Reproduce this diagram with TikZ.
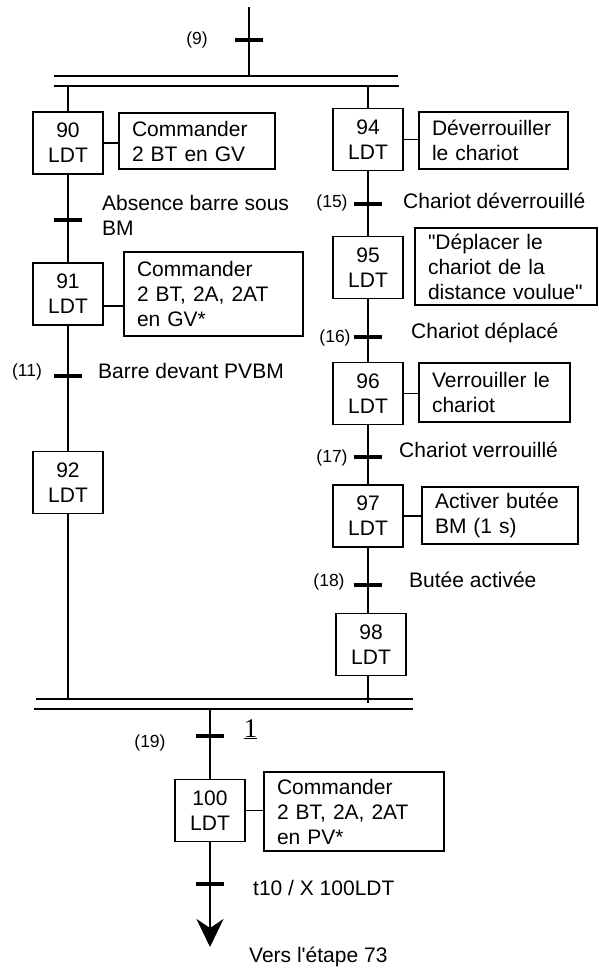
\documentclass[tikz,border=0pt]{standalone}
\usepackage{fontspec}
\setmainfont{Liberation Sans}
\newfontfamily\serifone{Liberation Serif}
\usetikzlibrary{arrows.meta}
\begin{document}
\begin{tikzpicture}[x=1pt,y=-1pt,
  thinline/.style={line width=1.4pt},
  stepbox/.style={draw, line width=1.4pt, minimum width=70pt, minimum height=62pt, inner sep=0pt, align=center, font=\fontsize{21}{25}\selectfont},
  actbox/.style={draw, line width=1.4pt, inner xsep=13pt, inner ysep=0pt, align=left, font=\fontsize{21}{25}\selectfont},
  trbar/.style={line width=3.5pt},
  tlabel/.style={font=\fontsize{17.5}{20}\selectfont, inner sep=0pt},
  ttext/.style={font=\fontsize{21}{25}\selectfont, inner sep=0pt, anchor=base west},
]
\useasboundingbox (0,0) rectangle (598,969);

% steps
\node[stepbox] (s90) at (68,143) {90\\LDT};
\node[stepbox] (s91) at (68,294) {91\\LDT};
\node[stepbox] (s92) at (68,482.5) {92\\LDT};
\node[stepbox] (s94) at (368,139.5) {94\\LDT};
\node[stepbox] (s95) at (368,267.5) {95\\LDT};
\node[stepbox] (s96) at (368,393.5) {96\\LDT};
\node[stepbox] (s97) at (368,516) {97\\LDT};
\node[stepbox] (s98) at (371,644.5) {98\\LDT};
\node[stepbox] (s100) at (210,810.5) {100\\LDT};

% actions
\node[actbox, text width=130pt, minimum height=56pt] (a90) at (197,141) {Commander\\2 BT en GV};
\node[actbox, text width=153pt, minimum height=84pt] (a91) at (213.5,294) {Commander\\2 BT, 2A, 2AT\\en GV*};
\node[actbox, text width=123pt, minimum height=57pt] (a94) at (493.5,140.5) {Déverrouiller\\le chariot};
\node[actbox, text width=156pt, minimum height=77pt] (a95) at (506,266.5) {\textquotedbl Déplacer le\\chariot de la\\distance voulue\textquotedbl};
\node[actbox, text width=125pt, minimum height=59pt] (a96) at (494.5,392.5) {Verrouiller le\\chariot};
\node[actbox, text width=130pt, minimum height=57pt] (a97) at (500,515.5) {Activer butée\\BM (1 s)};
\node[actbox, text width=154pt, minimum height=79pt] (a100) at (354,811.5) {Commander\\2 BT, 2A, 2AT\\en PV*};

% action links
\draw[thinline] (s90.east) -- (s90.east -| a90.west);
\draw[thinline] ([yshift=-12pt]s91.east) -- ([yshift=-12pt]s91.east -| a91.west);
\draw[thinline] (s94.east) -- (s94.east -| a94.west);
\draw[thinline] (s96.east) -- (s96.east -| a96.west);
\draw[thinline] (s97.east) -- (s97.east -| a97.west);
\draw[thinline] (s100.east) -- (s100.east -| a100.west);

% double bars
\coordinate (dA1) at (54,76);  \coordinate (dA2) at (398,76);
\coordinate (dB1) at (54,86);  \coordinate (dB2) at (399,86);
\coordinate (dC1) at (36,699); \coordinate (dC2) at (413,699);
\coordinate (dD1) at (34,709); \coordinate (dD2) at (413,709);
\draw[thinline] (dA1) -- (dA2);
\draw[thinline] (dB1) -- (dB2);
\draw[thinline] (dC1) -- (dC2);
\draw[thinline] (dD1) -- (dD2);

% vertical links
\coordinate (top) at (249,7);
\coordinate (topend) at (249,76);
\draw[thinline] (top) -- (topend);
\coordinate (lb) at (68,86);
\coordinate (lbe) at (68,699);
\draw[thinline] (lb) -- (s90.north);
\draw[thinline] (s90.south) -- (s91.north);
\draw[thinline] (s91.south) -- (s92.north);
\draw[thinline] (s92.south) -- (lbe);
\coordinate (rb) at (368,86);
\coordinate (rbe) at (368,703);
\draw[thinline] (rb) -- (s94.north);
\draw[thinline] (s94.south) -- (s95.north);
\draw[thinline] (s95.south) -- (s96.north);
\draw[thinline] (s96.south) -- (s97.north);
\draw[thinline] (s97.south) -- (s97.south |- s98.north);
\draw[thinline] (rbe |- s98.south) -- (rbe);
\coordinate (bb) at (210,709);
\coordinate (tip) at (210,947);
\draw[thinline] (bb) -- (s100.north);
\draw[thinline, -{Stealth[length=28pt,width=27pt,inset=9pt]}] (s100.south) -- (tip);

% transitions
\coordinate (t9) at (249,40);
\coordinate (t10) at (68,220);
\coordinate (t11) at (68,376);
\coordinate (t15) at (368,204);
\coordinate (t16) at (368,337);
\coordinate (t17) at (368,457);
\coordinate (t18) at (368,585);
\coordinate (t19) at (210,736);
\coordinate (t20) at (210,884);
\foreach \t in {t9,t10,t11,t15,t16,t17,t18,t19,t20}
  \draw[trbar] ([xshift=-14pt]\t) -- ([xshift=14pt]\t);

% transition labels
\node[tlabel] (l9) at (197,40) {(9)};
\node[ttext, anchor=west, align=left] (c10) at (102,215) {Absence barre sous\\BM};
\node[tlabel] (l11) at (27,372) {(11)};
\node[ttext] (c11) at (98,378.5) {Barre devant PVBM};
\node[tlabel] (l15) at (332,203) {(15)};
\node[ttext] (c15) at (403,208.5) {Chariot déverrouillé};
\node[tlabel] (l16) at (335,338) {(16)};
\node[ttext] (c16) at (411,338.5) {Chariot déplacé};
\node[tlabel] (l17) at (332,458) {(17)};
\node[ttext] (c17) at (399,457.5) {Chariot verrouillé};
\node[tlabel] (l18) at (329,582) {(18)};
\node[ttext] (c18) at (409,587.5) {Butée activée};
\node[tlabel] (l19) at (150,743) {(19)};
\node[font=\serifone\fontsize{27}{30}\selectfont, inner sep=0pt, anchor=base] (one) at (250.5,737) {\underline{1}};
\node[ttext] (c20) at (253,895.5) {t10 / X 100LDT};
\node[ttext] (vers) at (249,962) {Vers l\textquotesingle étape 73};
\end{tikzpicture}
\end{document}
